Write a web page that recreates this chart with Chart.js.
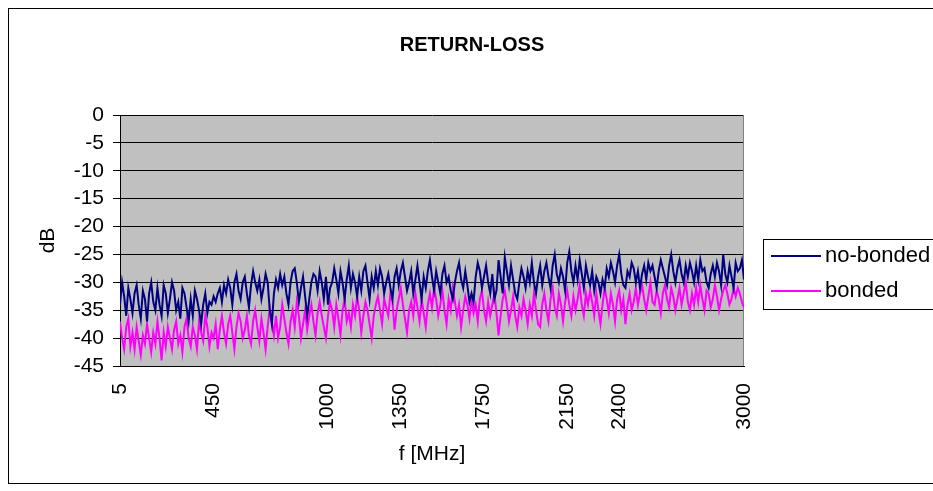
<!DOCTYPE html>
<html>
<head>
<meta charset="utf-8">
<script src="https://cdn.jsdelivr.net/npm/chart.js@4.4.0/dist/chart.umd.min.js"></script>
<style>
html,body{margin:0;padding:0;background:#fff;}
</style>
</head>
<body>
<canvas id="chart" width="933" height="491"></canvas>
<script>
// sweep range and labelled frequencies
const freqStart = 5;
const freqEnd = 3000;
const tickLabels = [5, 450, 1000, 1350, 1750, 2150, 2400, 3000];

// return loss in dB (evenly spaced sweep points)
const noBonded = [
-34,-30,-32.5,-36,-31,-33,-35.5,-32,-30.5,-34,-36.5,-31.5,-33,-37,-32,-30,-33.5,-35,-31,-34,-36,-30.5,-32,-35.5,-33,
-30,-31.5,-35,-33.5,-36.5,-31,-32,-34.5,-37,-33,-36,-31.5,-33,-35,-37.5,-34,-32,-35.5,-33.5,-34,-32.5,-33.5,-32,-31,-33.5,
-30.5,-32,-29.5,-31,-34,-30,-28.5,-31.5,-33,-30,-29,-32,-34.5,-30.5,-28,-30,-31.5,-29.5,-33,-31,-28.5,-30,-35,-37.5,-32,
-29.5,-31,-28.5,-30.5,-29,-32,-34,-30,-28,-27.5,-30,-33.5,-31,-29,-32.5,-36,-33,-30,-28.5,-29,-31.5,-28,-30,-33,-29,
-34,-31,-30,-27.5,-29.5,-32,-28,-30,-33,-29.5,-27,-31,-28.5,-30,-32.5,-29,-31.5,-28,-27,-30,-33,-29,-31,-28,-30.5,
-27.5,-29,-32,-30,-28.5,-31,-33,-29,-27.5,-30.5,-28,-26.5,-29,-31.5,-30,-28,-32,-29.5,-27,-30,-33,-29,-31,-28,-26,
-29,-31.5,-28,-30,-32,-28.5,-27,-30,-29,-31.5,-33,-30,-28,-26.5,-29.5,-31,-28,-30.5,-33.5,-32,-33.5,-29,-26.5,-28,-31,
-29,-27,-30,-32,-28.5,-33,-31.5,-26,-29,-32,-25.5,-28,-30.5,-27,-29.5,-32,-33,-30,-27.5,-29,-31,-28,-30,-26.5,-30,
-32,-29,-27,-30.5,-28,-26.5,-29,-31,-27,-25,-28.5,-30,-27.5,-29,-31.5,-26.5,-24.5,-28,-30,-27,-29.5,-26,-28.5,-31,-27,
-29,-30.5,-28,-31.5,-29,-30,-32,-29.5,-31,-27.5,-29,-26.5,-28,-30,-27,-25,-28.5,-30.5,-31,-28,-29,-26.5,-27.5,-30,-28,
-31,-28.5,-27,-29.5,-26.5,-28,-27,-29,-31,-28,-26,-27.5,-29,-30.5,-27,-25,-28,-30,-27.5,-26,-28.5,-30,-27,-29,-26.5,
-28,-30,-27,-29.5,-26,-28,-27.5,-30,-31,-28.5,-27,-29,-26.5,-28,-30.5,-25,-28.5,-30,-27,-29,-31,-26.5,-28,-27.5,-26,
-29.5
];
const bonded = [
-37,-40,-42,-38,-36.5,-41.5,-39,-42,-38,-40.5,-43,-39.5,-41,-37.5,-40,-42.5,-39,-41,-37,-40,-44,-39,-41.5,-38,-40,
-42,-38.5,-37,-41,-39.5,-42.5,-38,-36.5,-40,-41.5,-38,-39.5,-42,-37,-39,-40.5,-36,-38,-41.5,-39,-40,-37.5,-42,-38.5,-36,
-39,-41,-37.5,-36,-39,-42,-38,-35.5,-37,-40,-38.5,-36,-39.5,-41,-37,-35,-38,-40.5,-36.5,-39,-42,-38,-34.5,-37,-39.5,
-36,-40,-38,-34,-36.5,-39,-41,-37,-35,-38,-33.5,-36,-40,-37.5,-35,-38.5,-36,-34,-37,-39.5,-35.5,-33.5,-36,-38,-40,
-36,-33.5,-35,-38,-34,-36.5,-39.5,-35,-33,-37,-35.5,-38,-34,-36,-32.5,-35,-39,-36,-33.5,-35,-37.5,-40,-36,-34,-32.5,
-35,-37.5,-33,-34.5,-36,-32,-33.5,-38.5,-35,-33,-31,-34,-36.5,-39,-35,-33.5,-36,-32,-34.5,-37,-33,-35.5,-38,-34,-32,
-34.5,-31,-33,-36,-34,-31.5,-35,-37.5,-33,-35,-31,-33.5,-36,-34,-38,-35,-32.5,-34,-36.5,-33,-35.5,-34,-37,-33,-31.5,
-35,-37,-33.5,-36,-34,-32,-35.5,-39.5,-36,-33,-31.5,-34,-37,-35,-32.5,-36,-38,-34.5,-36,-33,-35,-37.5,-34,-36,-32,
-35,-37.5,-38,-34,-32,-35,-37,-33,-31,-34.5,-36,-32,-34,-37,-33.5,-31.5,-34,-36,-32.5,-35,-33,-30.5,-34,-36,-32,
-34,-31.5,-33.5,-36,-32,-35,-37.5,-34,-31,-33,-35.5,-32,-34,-37,-33,-31.5,-35,-33,-37.5,-34,-32,-35,-33.5,-31,-34,
-32,-30.5,-33,-35,-32.5,-30,-33.5,-34,-31.5,-33,-35.5,-32,-30.5,-33,-34.5,-31,-32.5,-35,-33,-31,-34,-32,-30,-33.5,-35,
-32,-34,-31,-33.5,-30.5,-33,-35,-31.5,-32,-34.5,-33,-30.5,-32.5,-35,-33,-31.5,-30.5,-32,-34,-33,-31,-32.5,-31,-32,-33.5,
-34.5
];

// place each reading at its sweep frequency
const toPoints = arr => arr.map((v, i) => ({
  x: freqStart + i * (freqEnd - freqStart) / (arr.length - 1),
  y: v
}));

const FONT = '"Liberation Sans", Arial, sans-serif';

// grey plot area, outer frame, title and boxed legend like the Excel original
const excelLook = {
  id: 'excelLook',
  beforeDraw(chart) {
    const {ctx, chartArea: a} = chart;
    ctx.save();
    ctx.fillStyle = '#fff';
    ctx.fillRect(0, 0, chart.width, chart.height);
    ctx.fillStyle = '#c0c0c0';
    ctx.fillRect(a.left, a.top, a.right - a.left, a.bottom - a.top);
    ctx.restore();
  },
  beforeDatasetsDraw(chart) {
    const {ctx, chartArea: a} = chart;
    ctx.save();
    ctx.strokeStyle = '#808080';
    ctx.lineWidth = 1;
    ctx.beginPath();
    ctx.moveTo(a.right - 0.5, a.top);
    ctx.lineTo(a.right - 0.5, a.bottom);
    ctx.stroke();
    ctx.restore();
  },
  afterDraw(chart) {
    const ctx = chart.ctx;
    ctx.save();
    // outer frame
    ctx.strokeStyle = '#000';
    ctx.lineWidth = 1;
    ctx.strokeRect(8.5, 8.5, 940, 475);
    // title
    ctx.fillStyle = '#000';
    ctx.font = 'bold 20px ' + FONT;
    ctx.textAlign = 'center';
    ctx.textBaseline = 'middle';
    ctx.fillText('RETURN-LOSS', 472, 45);
    // legend
    ctx.strokeRect(763.5, 239.5, 180, 70);
    ctx.font = '22px ' + FONT;
    ctx.textAlign = 'left';
    chart.data.datasets.forEach((ds, i) => {
      const y = 256 + i * 35;
      ctx.strokeStyle = ds.borderColor;
      ctx.lineWidth = 2;
      ctx.beginPath();
      ctx.moveTo(771, y);
      ctx.lineTo(821, y);
      ctx.stroke();
      ctx.fillText(ds.label, 825, y);
    });
    ctx.restore();
  }
};

new Chart(document.getElementById('chart'), {
  type: 'line',
  data: {
    datasets: [{
      label: 'no-bonded',
      data: toPoints(noBonded),
      borderColor: '#000080',
      borderWidth: 2
    }, {
      label: 'bonded',
      data: toPoints(bonded),
      borderColor: '#ff00ff',
      borderWidth: 2
    }]
  },
  options: {
    responsive: false,
    animation: false,
    layout: {padding: {left: 0, right: 189, top: 115, bottom: 0}},
    elements: {point: {radius: 0}, line: {tension: 0}},
    plugins: {legend: {display: false}, tooltip: {enabled: false}},
    scales: {
      x: {
        type: 'linear',
        min: freqStart,
        max: freqEnd,
        afterBuildTicks: s => { s.ticks = tickLabels.map(v => ({value: v})); },
        afterFit: s => { s.height = 125; },
        grid: {display: false, drawTicks: false},
        border: {color: '#000', width: 1},
        ticks: {
          autoSkip: false, minRotation: 90, maxRotation: 90, padding: 17,
          color: '#000', font: {size: 21, family: FONT},
          callback: v => String(v)
        },
        title: {display: true, text: 'f [MHz]', color: '#000', font: {size: 21, family: FONT}, padding: {top: 24, bottom: 24}}
      },
      y: {
        min: -45,
        max: 0,
        afterFit: s => { s.width = 120; },
        grid: {color: '#000', lineWidth: 1, tickLength: 7},
        border: {color: '#000', width: 1},
        ticks: {stepSize: 5, autoSkip: false, padding: 9, color: '#000', font: {size: 21, family: FONT}},
        title: {display: true, text: 'dB', color: '#000', font: {size: 21, family: FONT}, padding: {top: 36, bottom: 0}}
      }
    }
  },
  plugins: [excelLook]
});
</script>
</body>
</html>
